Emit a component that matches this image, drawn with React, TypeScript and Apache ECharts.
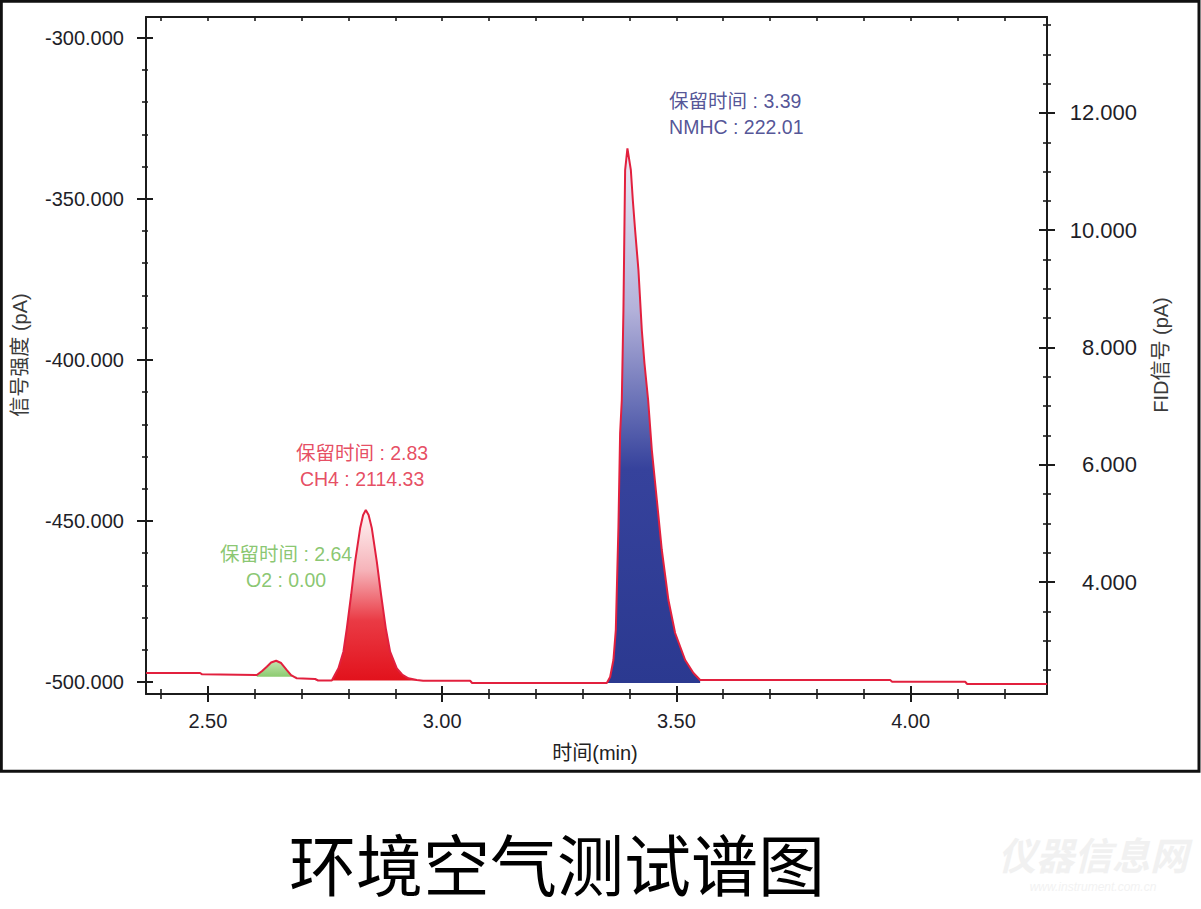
import React, { useEffect, useRef } from 'react';
import * as echarts from 'echarts';

// ---- data (time in min, signal in pA on the left axis) ----
const baselineStart: number[][] = [
  [2.3682, -497.21], [2.4835, -497.21], [2.4877, -497.61], [2.6045, -497.83],
];
const o2Peak: number[][] = [
  [2.6045, -497.83], [2.6158, -496.59], [2.6258, -495.25], [2.6350, -493.95], [2.6457, -493.39],
  [2.6564, -494.10], [2.6686, -496.28], [2.6777, -497.83], [2.6899, -498.85],
];
const baselineMid1: number[][] = [
  [2.7289, -499.07], [2.7353, -499.53],
];
const ch4Peak: number[][] = [
  [2.7646, -499.53], [2.7787, -495.75], [2.7893, -490.59], [2.7966, -483.33], [2.8058, -472.99],
  [2.8143, -462.66], [2.8250, -452.29], [2.8314, -448.16], [2.8371, -446.61], [2.8431, -448.16],
  [2.8500, -452.29], [2.8606, -462.66], [2.8698, -472.99], [2.8798, -483.33], [2.8890, -490.59],
  [2.9033, -495.75], [2.9146, -497.67], [2.9281, -498.85], [2.9460, -499.38],
];
const baselineMid2: number[][] = [
  [2.9594, -499.60], [3.0598, -499.60], [3.0640, -500.31],
];
const nmhcPeak: number[][] = [
  [3.3515, -500.31], [3.3586, -498.45], [3.3656, -493.17], [3.3707, -483.86], [3.3763, -451.89],
  [3.3799, -422.71], [3.3835, -412.46], [3.3870, -384.53], [3.3906, -341.07], [3.3955, -334.33],
  [3.4028, -341.07], [3.4070, -350.38], [3.4119, -359.69], [3.4190, -372.11], [3.4262, -390.73],
  [3.4318, -400.98], [3.4397, -412.46], [3.4476, -427.98], [3.4583, -443.50], [3.4689, -459.02],
  [3.4830, -474.55], [3.4973, -484.79], [3.5187, -493.17], [3.5364, -497.21], [3.5507, -499.38],
];
const baselineEnd: number[][] = [
  [3.9562, -499.38], [3.9605, -499.91], [4.1163, -499.91], [4.1206, -500.62], [4.2914, -500.62],
];
const peakBases = { o2: -498.4, ch4: -499.5, nmhc: -500.3 };

// peak annotations: [x, y, text]
const peakLabels = [
  { pos: [3.4845, -323.69], text: '保留时间 : 3.39\nNMHC : 222.01', color: '#27287c', align: 'left' },
  { pos: [2.8292, -432.95], text: '保留时间 : 2.83\nCH4 : 2114.33', color: '#e0203a', align: 'center' },
  { pos: [2.6670, -464.15], text: '保留时间 : 2.64\nO2 : 0.00', color: '#6cb84c', align: 'center' },
];

// ---- axes ----
const xRange = [2.368, 4.291];
const yLeftRange = [-503.72, -293.57];
const yRightRange = [2.0896, 13.6375];
const xMajor = [2.5, 3.0, 3.5, 4.0];
const xMinor = [2.4, 2.6, 2.7, 2.8, 2.9, 3.1, 3.2, 3.3, 3.4, 3.6, 3.7, 3.8, 3.9, 4.1, 4.2];
const xAll = [2.4, 2.5, 2.6, 2.7, 2.8, 2.9, 3.0, 3.1, 3.2, 3.3, 3.4, 3.5, 3.6, 3.7, 3.8, 3.9, 4.0, 4.1, 4.2];
const yLeftMajor = [-500, -450, -400, -350, -300];
const yLeftMinor = [-490, -480, -470, -460, -440, -430, -420, -410, -390, -380, -370, -360, -340, -330, -320, -310];
const yRightMajor = [4, 6, 8, 10, 12];
const yRightMinor = [2.5, 3, 3.5, 4.5, 5, 5.5, 6.5, 7, 7.5, 8.5, 9, 9.5, 10.5, 11, 11.5, 12.5, 13, 13.5];

const AXIS_COLOR = '#1b1b1b';
const LATIN = "'Liberation Sans', Arial, 'Noto Sans CJK SC', sans-serif";

function tickAxis(range: number[], position: string, values: number[], length: number, inside: boolean, width: number) {
  return {
    type: 'value', position, min: range[0], max: range[1],
    axisLine: { show: false, onZero: false },
    axisLabel: { show: false },
    splitLine: { show: false },
    axisTick: { show: true, customValues: values, length, inside, lineStyle: { color: AXIS_COLOR, width } },
  };
}

function fullCurve() {
  return [...baselineStart, ...o2Peak, ...baselineMid1, ...ch4Peak, ...baselineMid2, ...nmhcPeak, ...baselineEnd];
}

function grad(stops: [number, string][]) {
  return new echarts.graphic.LinearGradient(0, 0, 0, 1, stops.map(([offset, color]) => ({ offset, color })));
}

export default function App() {
  const ref = useRef<HTMLDivElement>(null);
  useEffect(() => {
    if (!ref.current) return;
    const chart = echarts.init(ref.current, undefined, { renderer: 'svg' });
    const option: any = {
      animation: false,
      backgroundColor: '#ffffff',
      grid: { left: 146, top: 17, right: 154, bottom: 215, containLabel: false },
      xAxis: [
        {
          type: 'value', position: 'bottom', min: xRange[0], max: xRange[1],
          axisLine: { show: true, onZero: false, lineStyle: { color: AXIS_COLOR, width: 2 } },
          axisTick: { show: true, customValues: xMajor, length: 8, inside: false, lineStyle: { color: AXIS_COLOR, width: 2 } },
          axisLabel: {
            show: true, customValues: xMajor, margin: 17, fontSize: 20, fontFamily: LATIN, color: '#1e1e28',
            formatter: (v: number) => v.toFixed(2),
          },
          splitLine: { show: false },
        },
        tickAxis(xRange, 'bottom', xMajor, 8, true, 2),
        tickAxis(xRange, 'bottom', xMinor, 5, false, 1.6),
        tickAxis(xRange, 'bottom', xMinor, 5, true, 1.6),
        {
          ...tickAxis(xRange, 'top', xAll, 4, true, 1.6),
          axisLine: { show: true, onZero: false, lineStyle: { color: AXIS_COLOR, width: 2 } },
        },
      ],
      yAxis: [
        {
          type: 'value', position: 'left', min: yLeftRange[0], max: yLeftRange[1],
          axisLine: { show: true, onZero: false, lineStyle: { color: AXIS_COLOR, width: 2 } },
          axisTick: { show: true, customValues: yLeftMajor, length: 9, inside: false, lineStyle: { color: AXIS_COLOR, width: 2 } },
          axisLabel: {
            show: true, customValues: yLeftMajor, margin: 22, fontSize: 20, fontFamily: LATIN, color: '#1e1e28',
            formatter: (v: number) => v.toFixed(3),
          },
          splitLine: { show: false },
        },
        tickAxis(yLeftRange, 'left', yLeftMajor, 7, true, 2),
        tickAxis(yLeftRange, 'left', yLeftMinor, 4, false, 1.6),
        tickAxis(yLeftRange, 'left', yLeftMinor, 2, true, 1.6),
        {
          type: 'value', position: 'right', min: yRightRange[0], max: yRightRange[1],
          axisLine: { show: true, onZero: false, lineStyle: { color: AXIS_COLOR, width: 2 } },
          axisTick: { show: true, customValues: yRightMajor, length: 8, inside: false, lineStyle: { color: AXIS_COLOR, width: 2 } },
          axisLabel: {
            show: true, customValues: yRightMajor, margin: 90, align: 'right', fontSize: 22, fontFamily: LATIN, color: '#1e1e28',
            formatter: (v: number) => v.toFixed(3),
          },
          splitLine: { show: false },
        },
        tickAxis(yRightRange, 'right', yRightMajor, 8, true, 2),
        tickAxis(yRightRange, 'right', yRightMinor, 4, false, 1.6),
        tickAxis(yRightRange, 'right', yRightMinor, 4, true, 1.6),
      ],
      series: [
        {
          type: 'line', xAxisIndex: 0, yAxisIndex: 0, data: o2Peak, symbol: 'none', silent: true, z: 2,
          lineStyle: { width: 0, opacity: 0 },
          areaStyle: { origin: peakBases.o2, opacity: 1, color: grad([[0, '#c4e6b0'], [1, '#86c86a']]) },
        },
        {
          type: 'line', xAxisIndex: 0, yAxisIndex: 0, data: ch4Peak, symbol: 'none', silent: true, z: 2,
          lineStyle: { width: 0, opacity: 0 },
          areaStyle: {
            origin: peakBases.ch4, opacity: 1,
            color: grad([[0, '#fff6f6'], [0.35, '#f6b4ba'], [0.65, '#ea3a44'], [1, '#e2121c']]),
          },
        },
        {
          type: 'line', xAxisIndex: 0, yAxisIndex: 0, data: nmhcPeak, symbol: 'none', silent: true, z: 2,
          lineStyle: { width: 0, opacity: 0 },
          areaStyle: {
            origin: peakBases.nmhc, opacity: 1,
            color: grad([[0, '#f0ecf6'], [0.3, '#b4b2da'], [0.48, '#6870b6'], [0.6, '#36429c'], [1, '#2b3990']]),
          },
        },
        {
          type: 'line', xAxisIndex: 0, yAxisIndex: 0, data: fullCurve(), symbol: 'none', silent: true, z: 3,
          lineStyle: { color: '#e2203e', width: 2 },
        },
        {
          type: 'scatter', xAxisIndex: 0, yAxisIndex: 0, symbolSize: 0, silent: true, z: 5,
          data: peakLabels.map((p) => ({
            value: p.pos,
            label: {
              show: true,
              position: p.align === 'left' ? 'right' : 'inside',
              distance: 0,
              align: p.align,
              verticalAlign: 'middle',
              formatter: p.text,
              color: p.color,
              fontSize: 19.5,
              lineHeight: 26,
              fontFamily: LATIN,
            },
          })),
        },
      ],
      graphic: [
        {
          type: 'rect', silent: true, z: 100,
          shape: { x: 1.3, y: 1.3, width: 1197.7, height: 770 },
          style: { fill: 'none', stroke: '#111111', lineWidth: 3 },
        },
        {
          type: 'text', x: 595, y: 753, silent: true,
          style: { text: '时间(min)', fill: '#222222', fontSize: 20, fontFamily: LATIN, align: 'center', verticalAlign: 'middle' },
        },
        {
          type: 'text', x: 20, y: 355, rotation: Math.PI / 2, silent: true,
          style: { text: '信号强度 (pA)', fill: '#3a3a3a', fontSize: 20, fontFamily: LATIN, align: 'center', verticalAlign: 'middle' },
        },
        {
          type: 'text', x: 1161, y: 355, rotation: Math.PI / 2, silent: true,
          style: { text: 'FID信号 (pA)', fill: '#3a3a3a', fontSize: 20, fontFamily: LATIN, align: 'center', verticalAlign: 'middle' },
        },
        {
          type: 'text', x: 557, y: 861, silent: true,
          style: { text: '环境空气测试谱图', fill: '#000000', fontSize: 67, lineHeight: 68, fontFamily: "'Noto Sans CJK SC', sans-serif", align: 'center', verticalAlign: 'middle' },
        },
        {
          type: 'text', x: 1093, y: 853, silent: true,
          style: { text: '仪器信息网', fill: '#f1f1f1', fontSize: 38, fontWeight: 'bold', fontStyle: 'italic', fontFamily: "'Noto Sans CJK SC', sans-serif", align: 'center', verticalAlign: 'middle' },
        },
        {
          type: 'text', x: 1093, y: 887, silent: true,
          style: { text: 'www.instrument.com.cn', fill: '#f2f2f2', fontSize: 12, fontStyle: 'italic', fontFamily: LATIN, align: 'center', verticalAlign: 'middle' },
        },
      ],
    };
    chart.setOption(option);
    return () => chart.dispose();
  }, []);
  return (
    <div
      ref={ref}
      style={{ position: 'absolute', left: 0, top: 0, width: 1201, height: 909, background: '#ffffff' }}
    />
  );
}
